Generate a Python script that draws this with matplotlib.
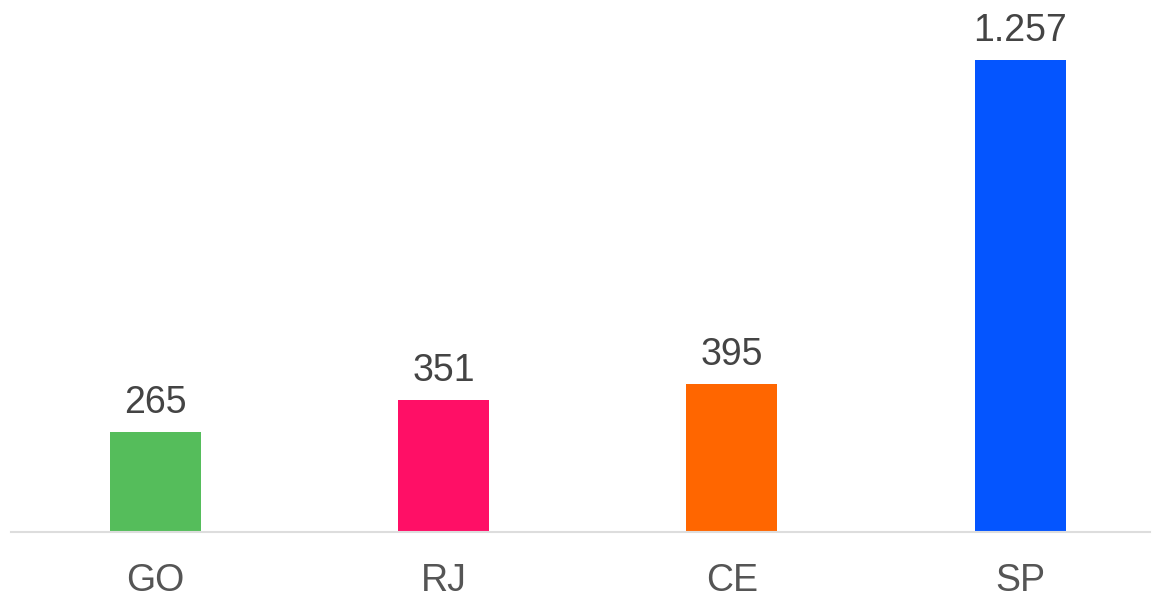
import matplotlib.pyplot as plt

# Data
states = ["GO", "RJ", "CE", "SP"]
values = [265, 351, 395, 1257]
value_labels = ["265", "351", "395", "1.257"]
colors = ["#55BD5B", "#FF0F66", "#FF6600", "#0455FF"]

plt.rcParams['font.family'] = ['Liberation Sans', 'DejaVu Sans']

fig = plt.figure(figsize=(11.55, 5.93), dpi=100)
ax = fig.add_axes([11 / 1155, 61 / 593, 1139 / 1155, 526 / 593])

x = range(len(states))
bars = ax.bar(x, values, width=0.316, color=colors)

for bar, lab in zip(bars, value_labels):
    ax.annotate(lab, (bar.get_x() + bar.get_width() / 2, bar.get_height()),
                xytext=(0, 19), textcoords='offset pixels',
                ha='center', va='baseline', fontsize=27, color='#444444')

ax.set_xlim(-0.5, 3.45)
ax.set_ylim(0, 1400)
ax.set_xticks(list(x))
ax.set_xticklabels(states, fontsize=27, color='#555555')
ax.tick_params(axis='x', length=0, pad=22)
ax.set_yticks([])
for side in ['top', 'right', 'left']:
    ax.spines[side].set_visible(False)
ax.spines['bottom'].set_color('#DDDDDD')
ax.spines['bottom'].set_linewidth(1.5)

fig.savefig('out.png', dpi=100)
